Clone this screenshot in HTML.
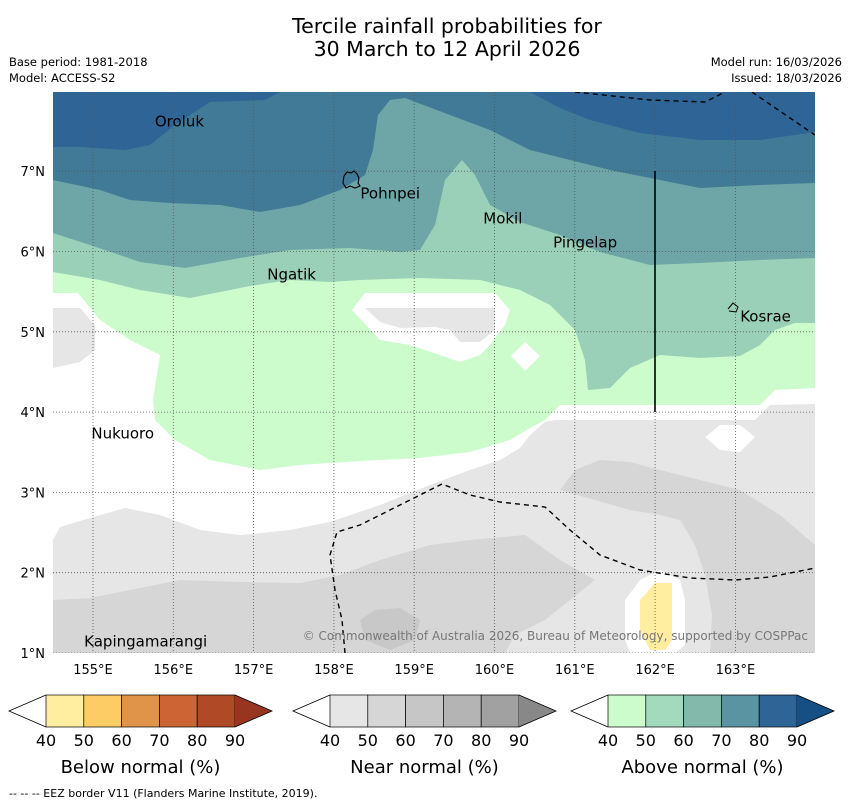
<!DOCTYPE html>
<html><head><meta charset="utf-8">
<style>
body{margin:0;background:#fff;font-family:"Liberation Sans","DejaVu Sans",sans-serif;}
svg{display:block}
</style></head>
<body>
<svg id="fig" width="850" height="804" viewBox="0 0 850 804" xmlns="http://www.w3.org/2000/svg" font-family="DejaVu Sans, Liberation Sans, sans-serif">
<text x="447" y="33" font-size="20.5" text-anchor="middle">Tercile rainfall probabilities for</text>
<text x="447" y="56" font-size="20.5" text-anchor="middle">30 March to 12 April 2026</text>
<text x="9" y="66" font-size="11.5">Base period: 1981-2018</text>
<text x="9" y="82" font-size="11.5">Model: ACCESS-S2</text>
<text x="842" y="66" font-size="11.5" text-anchor="end">Model run: 16/03/2026</text>
<text x="842" y="82" font-size="11.5" text-anchor="end">Issued: 18/03/2026</text>
<defs><clipPath id="mapclip"><rect x="53" y="92" width="762" height="561"/></clipPath></defs>
<g id="map" clip-path="url(#mapclip)"></g>
<g id="axes"></g>
<g id="cbars"></g>
<text x="9" y="797" font-size="11">--  --  -- EEZ border V11 (Flanders Marine Institute, 2019).</text>
</svg>
<script>
const NS='http://www.w3.org/2000/svg';
// axis data
const lonTicks=[155,156,157,158,159,160,161,162,163];
const latTicks=[1,2,3,4,5,6,7];
const cbValues=[40,50,60,70,80,90];
const cbTitles=['Below normal (%)','Near normal (%)','Above normal (%)'];
const belowColors=['#ffeda0','#fecc65','#e0944a','#cd6434','#b04a26','#973520'];
const nearColors=['#e6e6e6','#d6d6d6','#c6c6c6','#b4b4b4','#a1a1a1','#888888'];
const aboveColors=['#ccfbcc','#a3d9bc','#82b9ab','#5a93a2','#2f6496','#164f84'];
const places=['Oroluk','Pohnpei','Mokil','Pingelap','Ngatik','Kosrae','Nukuoro','Kapingamarangi'];
const placeLon=[155.77,158.33,159.86,160.73,157.17,163.06,154.98,154.89];
const placeLat=[7.569,6.672,6.361,6.062,5.664,5.141,3.684,1.093];

const X=lon=>93+(lon-155)*80.3;
const Y=lat=>653-(lat-1)*80.3;
const map=document.getElementById('map');
function poly(parent,pts,fill,name){
  const p=document.createElementNS(NS,'polygon');
  p.setAttribute('points',pts.map(q=>q.join(',')).join(' '));
  p.setAttribute('fill',fill);
  
  
  parent.appendChild(p);return p;
}
function line(parent,pts,stroke,dash,w,name){
  const p=document.createElementNS(NS,'polyline');
  p.setAttribute('points',pts.map(q=>q.join(',')).join(' '));
  p.setAttribute('fill','none');p.setAttribute('stroke',stroke);
  p.setAttribute('stroke-width',w);if(dash)p.setAttribute('stroke-dasharray',dash);
  
  
  parent.appendChild(p);return p;
}
const bg=document.createElementNS(NS,'rect');
bg.setAttribute('x',53);bg.setAttribute('y',92);bg.setAttribute('width',762);bg.setAttribute('height',561);bg.setAttribute('fill','#fff');


map.appendChild(bg);
const T=[[815,92],[53,92]];
poly(map,[[53,293],[78,293],[100,320],[130,340],[160,355],[153,400],[155,420],[175,440],[210,460],[260,470],[300,465],[360,461],[420,458],[470,452],[510,440],[530,428],[545,420],[560,405],[760,405],[775,390],[815,388],...T],'#ccfccc','above-40-region');
poly(map,[[53,272],[100,280],[140,290],[190,298],[250,286],[290,280],[330,282],[360,280],[420,278],[480,280],[520,290],[550,305],[575,330],[585,360],[588,390],[610,388],[630,368],[660,355],[700,358],[740,356],[760,345],[775,330],[795,323],[815,323],...T],'#9bd0b8','above-50-region');
poly(map,[[53,233],[90,245],[140,262],[185,268],[240,258],[290,250],[350,248],[400,252],[420,250],[435,225],[445,180],[462,160],[475,175],[490,205],[520,222],[560,235],[600,252],[650,265],[700,263],[760,260],[815,258],...T],'#6ea5a7','above-60-region');
poly(map,[[53,180],[100,190],[130,200],[170,203],[220,205],[260,212],[300,205],[340,190],[365,175],[373,150],[378,115],[390,100],[405,98],[450,115],[490,130],[530,150],[570,160],[610,170],[660,180],[700,188],[760,185],[815,183],...T],'#417a96','above-70-region');
poly(map,[[53,92],[280,92],[265,100],[210,102],[175,125],[150,145],[125,150],[80,147],[53,147]],'#2f6496','above-80-region-west');
poly(map,[[530,92],[815,92],[815,132],[760,140],[700,140],[640,133],[590,120],[560,108]],'#2f6496','above-80-region-east');
poly(map,[[352,310],[365,293],[495,293],[510,310],[505,325],[490,345],[480,355],[460,362],[440,355],[410,345],[380,340]],'#ffffff','normal-hole');
poly(map,[[365,308],[495,308],[495,330],[480,342],[460,342],[450,330],[435,327],[400,328],[380,322]],'#e6e6e6','near-40-patch');
poly(map,[[525,342],[540,356],[525,371],[511,356]],'#ffffff','normal-diamond');
poly(map,[[53,540],[60,527],[90,518],[125,508],[160,515],[200,530],[240,535],[290,530],[330,522],[380,505],[430,485],[470,470],[500,460],[520,448],[530,435],[545,422],[555,420],[755,420],[770,405],[815,404],[815,653],[53,653]],'#e6e6e6','near-40-region');
poly(map,[[53,308],[80,308],[95,325],[95,350],[80,362],[53,368]],'#e6e6e6','near-40-west');
poly(map,[[705,437],[720,425],[740,425],[755,437],[740,452],[720,450]],'#ffffff','normal-diamond-east');
poly(map,[[53,600],[90,598],[130,590],[180,580],[240,582],[300,583],[340,575],[380,560],[430,545],[470,540],[525,535],[560,560],[595,580],[570,600],[545,620],[515,635],[505,653],[53,653]],'#d6d6d6','near-50-south');
poly(map,[[560,490],[575,470],[600,460],[630,462],[660,470],[700,480],[740,490],[780,515],[815,545],[815,653],[710,653],[712,615],[705,575],[695,545],[680,520],[660,515],[630,510],[595,500]],'#d6d6d6','near-50-east');
poly(map,[[360,620],[375,610],[400,608],[420,620],[415,640],[390,650],[365,640]],'#c8c8c8','near-60-patch');
poly(map,[[625,600],[640,580],[660,570],[680,580],[685,600],[685,645],[675,653],[630,653],[625,640]],'#ffffff','normal-south');
poly(map,[[640,600],[655,583],[672,583],[672,640],[665,650],[650,650],[640,630]],'#ffeda0','below-40-patch');
lonTicks.forEach(l=>{line(map,[[X(l),92],[X(l),653]],'#555','1,2',0.8,'lon-gridline');});
latTicks.forEach(l=>{line(map,[[53,Y(l)],[815,Y(l)]],'#555','1,2',0.8,'lat-gridline');});
line(map,[[345,653],[342,620],[335,590],[330,555],[337,532],[360,525],[400,505],[442,484],[470,495],[500,502],[545,507],[570,530],[600,555],[640,570],[690,578],[735,580],[770,577],[815,568]],'#000','5,4',1.4,'eez-border-south');
line(map,[[575,92],[650,100],[705,102],[725,92]],'#000','5,4',1.4,'eez-border-north');
line(map,[[752,92],[790,118],[815,135]],'#000','5,4',1.4,'eez-border-northeast');
line(map,[[655,171],[655,412]],'#000',null,1.6,'boundary-line');
line(map,[[344,176],[347,172],[351,173],[354,171],[357,174],[359,178],[358,183],[360,186],[355,188],[350,186],[346,188],[343,183],[344,176]],'#000',null,1.1,'pohnpei-outline');
line(map,[[728,309],[733,303],[738,307],[736,312],[729,311]],'#000',null,1,'kosrae-outline');
places.forEach((n,i)=>{
  const t=document.createElementNS(NS,'text');
  t.setAttribute('x',X(placeLon[i]));t.setAttribute('y',Y(placeLat[i])+1);
  t.setAttribute('font-size','15');t.textContent=n;
  
  
  map.appendChild(t);
});
const cp=document.createElementNS(NS,'text');
cp.setAttribute('x',808);cp.setAttribute('y',640);cp.setAttribute('font-size','12');cp.setAttribute('text-anchor','end');cp.setAttribute('fill','#777');
cp.textContent='© Commonwealth of Australia 2026, Bureau of Meteorology, supported by COSPPac';


map.appendChild(cp);
const axes=document.getElementById('axes');
const fr=document.createElementNS(NS,'rect');
fr.setAttribute('x',53);fr.setAttribute('y',92);fr.setAttribute('width',762);fr.setAttribute('height',561);fr.setAttribute('fill','none');


axes.appendChild(fr);
lonTicks.forEach(l=>{
  const t=document.createElementNS(NS,'text');
  t.setAttribute('x',X(l));t.setAttribute('y',674);t.setAttribute('font-size','13');t.setAttribute('text-anchor','middle');
  t.textContent=l+'°E';
  
  
  axes.appendChild(t);
});
latTicks.forEach(l=>{
  const t=document.createElementNS(NS,'text');
  t.setAttribute('x',45);t.setAttribute('y',Y(l)+5);t.setAttribute('font-size','13');t.setAttribute('text-anchor','end');
  t.textContent=l+'°N';
  
  
  axes.appendChild(t);
});
const cb=document.getElementById('cbars');
const sets=[belowColors,nearColors,aboveColors];
const starts=[46,330,608];
const bw=37.8,cbTop=695,cbH=32;
sets.forEach((cols,k)=>{
  const x0=starts[k];
  const g=document.createElementNS(NS,'g');
  
  
  cb.appendChild(g);
  poly(g,[[x0,cbTop],[x0-37,cbTop+cbH/2],[x0,cbTop+cbH]],'#ffffff','colorbar-under-arrow');
  for(let i=0;i<5;i++){
    const r=document.createElementNS(NS,'rect');
    r.setAttribute('x',x0+i*bw);r.setAttribute('y',cbTop);r.setAttribute('width',bw);r.setAttribute('height',cbH);
    r.setAttribute('fill',cols[i]);r.setAttribute('stroke','#000');r.setAttribute('stroke-width','0.7');
    
    
    g.appendChild(r);
  }
  const xe=x0+5*bw;
  poly(g,[[xe,cbTop],[xe+37,cbTop+cbH/2],[xe,cbTop+cbH]],cols[5],'colorbar-over-arrow');
  line(g,[[x0,cbTop],[x0-37,cbTop+cbH/2],[x0,cbTop+cbH]],'#000',null,0.8,'colorbar-outline');
  line(g,[[xe,cbTop],[xe+37,cbTop+cbH/2],[xe,cbTop+cbH]],'#000',null,0.8,'colorbar-outline');
  cbValues.forEach((v,i)=>{
    const t=document.createElementNS(NS,'text');
    t.setAttribute('x',x0+i*bw);t.setAttribute('y',746);t.setAttribute('font-size','16');t.setAttribute('text-anchor','middle');
    t.textContent=v;
    
    
    g.appendChild(t);
  });
  const tt=document.createElementNS(NS,'text');
  tt.setAttribute('x',x0+2.5*bw);tt.setAttribute('y',773);tt.setAttribute('font-size','18');tt.setAttribute('text-anchor','middle');
  tt.textContent=cbTitles[k];
  
  
  g.appendChild(tt);
});
</script>
</body></html>
